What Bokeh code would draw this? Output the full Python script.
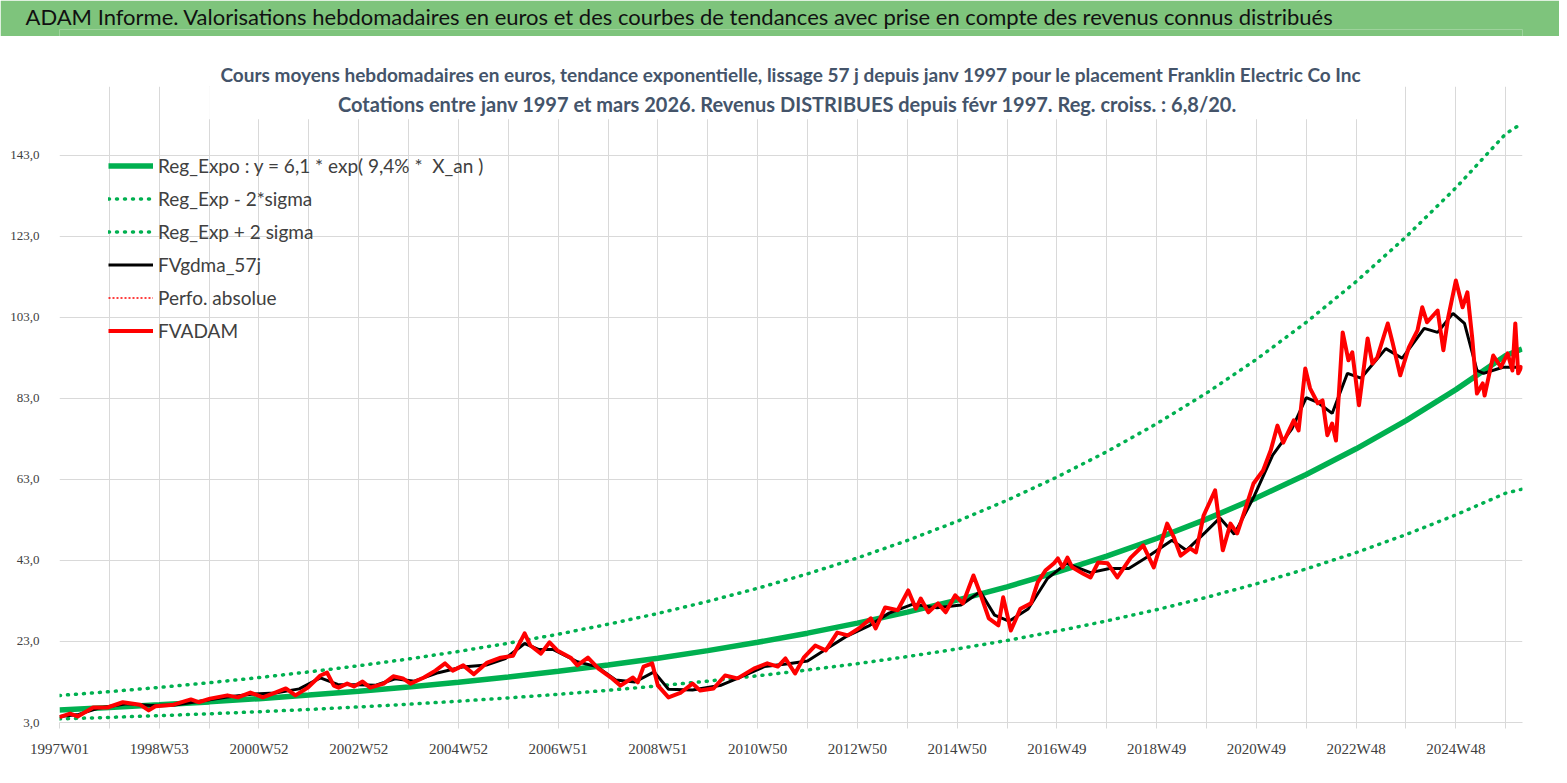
from bokeh.plotting import figure
from bokeh.layouts import column
from bokeh.models import (Range1d, FixedTicker, Legend, LegendItem, Label, Title,
                          BoxAnnotation)
from bokeh.embed import file_html
from bokeh.resources import INLINE

# ---------------- data ----------------
tick_labels = ["1997W01", "1998W53", "2000W52", "2002W52", "2004W52", "2006W51",
               "2008W51", "2010W50", "2012W50", "2014W50", "2016W49", "2018W49",
               "2020W49", "2022W48", "2024W48"]

y_ticks = [3, 23, 43, 63, 83, 103, 123, 143]

# FVADAM (weekly average price, euros) - week index since 1997W01
fv_weeks = [0, 11, 19, 35, 50, 66, 84, 93, 100, 119, 137, 145, 157, 175, 186, 199,
            212, 223, 236, 246, 259, 272, 279, 286, 291, 300, 307, 316, 324, 338,
            348, 358, 366, 380, 392, 402, 410, 421, 432, 446, 460, 473, 485, 491,
            502, 511, 519, 533, 540, 551, 562, 575, 585, 598, 603, 609, 618, 624,
            635, 648, 660, 668, 682, 694, 707, 724, 738, 749, 757, 767, 776, 788,
            799, 811, 822, 835, 846, 851, 861, 874, 885, 893, 898, 906, 916, 924,
            934, 942, 953, 960, 969, 979, 984, 992, 1002, 1013, 1020, 1028, 1037,
            1041, 1046, 1051, 1056, 1067, 1075, 1083, 1093, 1103, 1117, 1130, 1141,
            1155, 1162, 1169, 1179, 1185, 1193, 1205, 1213, 1221, 1228, 1237, 1245,
            1255, 1263, 1270, 1276, 1287, 1292, 1299, 1304, 1312, 1317, 1322, 1327,
            1331, 1338, 1344, 1348, 1355, 1364, 1369, 1374, 1385, 1390, 1398, 1407,
            1416, 1421, 1426, 1437, 1443, 1448, 1456, 1463, 1468, 1473, 1478, 1484,
            1486, 1495, 1503, 1510, 1515, 1518, 1521, 1525]
fvadam = [4.3, 5.2, 4.5, 6.7, 6.7, 8.0, 7.4, 6.0, 7.0, 7.4, 8.7, 8.0, 8.9, 9.7, 9.2, 10.4,
          9.2, 10.2, 11.4, 9.7, 11.6, 14.6, 15.3, 12.1, 11.6, 12.6, 11.9, 13.1, 11.6, 12.6,
          14.4, 13.9, 12.6, 14.1, 15.8, 17.6, 15.8, 17.1, 14.9, 17.8, 19.0, 19.5, 25.0, 22.0,
          20.0, 22.8, 20.8, 19.0, 17.1, 19.0, 16.3, 14.1, 12.1, 14.1, 12.9, 16.8, 17.6, 12.1,
          9.2, 10.4, 12.6, 10.9, 11.4, 14.6, 13.9, 16.3, 17.6, 16.8, 18.8, 15.1, 19.0, 22.0,
          20.8, 25.2, 24.5, 26.5, 28.7, 26.2, 31.4, 30.7, 35.6, 31.1, 33.6, 30.2, 32.4, 30.2,
          34.4, 32.4, 39.3, 34.9, 28.7, 27.0, 33.9, 25.7, 31.1, 32.4, 37.6, 40.5, 42.3,
          43.5, 41.3, 43.7, 41.3, 39.8, 38.8, 42.5, 42.3, 38.8, 43.7, 46.7, 41.3,
          52.1, 48.7, 44.2, 46.0, 45.0, 54.1, 60.3, 45.5, 52.1, 49.7, 56.1, 62.0,
          65.2, 70.2, 76.3, 72.1, 77.6, 75.1, 90.4, 85.5, 81.8, 82.5, 73.9, 76.8,
          72.6, 99.3, 92.4, 94.4, 81.3, 97.8, 91.6, 93.1, 101.5, 96.8, 88.7, 95.6,
          99.8, 105.5, 101.8, 104.7, 94.9, 103.0, 112.1, 105.5, 109.2, 98.1, 84.2, 86.7,
          83.7, 93.6, 90.7, 94.1, 89.9, 101.5, 89.2, 91.1]

# FVgdma_57j (57-day moving average)
ma_weeks = [0, 20, 40, 70, 95, 120, 145, 175, 200, 225, 250, 272, 290, 310, 330, 350,
            370, 395, 420, 445, 465, 485, 500, 515, 540, 560, 580, 600, 620, 635, 660,
            690, 710, 735, 760, 780, 800, 820, 845, 865, 890, 915, 940, 960, 975, 990,
            1010, 1030, 1050, 1075, 1095, 1115, 1135, 1160, 1175, 1195, 1210, 1225,
            1245, 1265, 1285, 1300, 1312, 1327, 1343, 1357, 1383, 1400, 1423, 1437,
            1453, 1465, 1478, 1485, 1505, 1525]
fvgdma = [4.5, 5.0, 6.5, 7.6, 7.2, 7.3, 8.2, 9.3, 10.0, 10.3, 11.3, 14.0, 12.4, 12.3, 12.2, 13.8,
          13.2, 15.3, 16.7, 17.2, 18.8, 22.5, 21.0, 21.0, 18.0, 16.8, 13.5, 13.0, 15.5, 11.2, 11.0,
          12.2, 14.2, 16.8, 17.5, 18.2, 21.2, 24.2, 27.0, 30.0, 32.2, 31.3, 32.0, 35.3, 29.5, 28.0,
          31.0, 38.5, 42.3, 40.0, 41.0, 41.0, 44.0, 48.0, 45.5, 50.0, 53.5, 49.5,
          58.5, 69.0, 75.5, 83.2, 82.0, 79.3, 89.2, 88.0, 95.3, 92.9, 100.3, 99.3,
          104.0, 101.5, 89.9, 89.2, 90.7, 90.7]

# exponential trend and +/- 2 sigma bands (read yearly)
trend_weeks = [0, 52, 104, 156, 208, 260, 312, 364, 416, 468, 520, 572, 624, 676, 728,
               780, 832, 884, 936, 988, 1040, 1092, 1144, 1196, 1248, 1300, 1352, 1404,
               1456, 1508, 1525]
reg_expo = [6.10, 6.70, 7.36, 8.09, 8.89, 9.77, 10.73, 11.79, 12.96, 14.24, 15.64, 17.19,
            18.88, 20.75, 22.80, 25.05, 27.52, 30.24, 33.22, 36.50, 40.11, 44.07, 48.42,
            53.20, 58.45, 64.22, 70.56, 77.52, 85.17, 93.58, 95.2]
reg_minus = [3.89, 4.27, 4.69, 5.15, 5.66, 6.22, 6.84, 7.51, 8.26, 9.07, 9.96, 10.95,
             12.03, 13.22, 14.52, 15.96, 17.53, 19.26, 21.16, 23.25, 25.55, 28.07, 30.84,
             33.89, 37.23, 40.91, 44.95, 49.38, 54.25, 59.61, 60.6]
reg_plus = [9.67, 10.62, 11.67, 12.82, 14.09, 15.49, 17.01, 18.69, 20.54, 22.57, 24.79,
            27.25, 29.92, 32.89, 36.14, 39.70, 43.62, 47.93, 52.65, 57.85, 63.57, 69.85,
            76.75, 84.32, 92.64, 101.79, 111.84, 122.87, 134.99, 148.32, 150.9]

legend_labels = ["Reg_Expo : y = 6,1 * exp( 9,4% *  X_an )", "Reg_Exp - 2*sigma",
                 "Reg_Exp + 2 sigma", "FVgdma_57j", "Perfo. absolue", "FVADAM"]

header = ("ADAM Informe. Valorisations hebdomadaires en euros et des courbes de tendances "
          "avec prise en compte des revenus connus distribués")
sub1 = ("Cours moyens hebdomadaires en euros, tendance exponentielle, lissage 57 j depuis "
        "janv 1997 pour le placement Franklin Electric Co Inc")
sub2 = ("Cotations entre janv 1997 et mars 2026. Revenus DISTRIBUES depuis févr 1997. "
        "Reg. croiss. : 6,8/20.")

# ---------------- styling ----------------
FONT = "Lato"
TICKFONT = "Liberation Sans Narrow"
GREEN = "#00b050"
RED = "#ff0000"
GRID = "#d9d9d9"
BAND = "#7ec47c"

W = 1559
HH = 36                       # header band height
H = 775 - HH
ML, MR, MT, MB = 59, W - 1522, 86 - HH, 53
FH = H - MT - MB

# ---------------- header band ----------------
hdr = figure(width=W, height=HH, x_range=Range1d(0, 1), y_range=Range1d(0, 1),
             output_backend="svg", toolbar_location=None,
             x_axis_location=None, y_axis_location=None,
             min_border_left=0, min_border_right=0, min_border_top=5, min_border_bottom=0,
             background_fill_color=BAND, border_fill_color=BAND,
             outline_line_color=None)
hdr.grid.visible = False
hdr.add_layout(Title(text=header, align="left", offset=-34, standoff=0,
                     text_font=FONT, text_font_size="22px", text_font_style="normal",
                     text_color="#111111"), "above")

# ---------------- main chart ----------------
p = figure(width=W, height=H, x_range=Range1d(0, 1525.5), y_range=Range1d(3, 160),
           output_backend="svg", toolbar_location=None,
           min_border_left=ML, min_border_right=MR, min_border_top=MT, min_border_bottom=MB,
           background_fill_color="white", border_fill_color="white", outline_line_color=None)

p.add_layout(Title(text=sub1, align="center", text_font=FONT, text_font_size="19px",
                   text_font_style="bold", text_color="#44546a", standoff=2), "above")

xt = list(range(0, 1526, 52))
p.xaxis.ticker = FixedTicker(ticks=xt)
over = {}
for i, t in enumerate(xt):
    over[t] = tick_labels[i // 2] if i % 2 == 0 and i // 2 < len(tick_labels) else ""
p.xaxis.major_label_overrides = over
p.xaxis.axis_line_color = GRID
p.xaxis.major_tick_line_color = GRID
p.xaxis.major_tick_out = 6
p.xaxis.major_tick_in = 0
p.xaxis.minor_tick_line_color = None
p.xaxis.major_label_standoff = 12
p.xaxis.major_label_text_font = TICKFONT
p.xaxis.major_label_text_font_size = "15px"
p.xaxis.major_label_text_color = "#404040"

p.yaxis.ticker = FixedTicker(ticks=y_ticks)
p.yaxis.major_label_overrides = {v: f"{v},0" for v in y_ticks}
p.yaxis.axis_line_color = None
p.yaxis.major_tick_line_color = None
p.yaxis.minor_tick_line_color = None
p.yaxis.major_label_standoff = 14
p.yaxis.major_label_text_font = TICKFONT
p.yaxis.major_label_text_font_size = "13px"
p.yaxis.major_label_text_color = "#404040"

p.xgrid.grid_line_color = GRID
p.ygrid.grid_line_color = GRID

# series
r_exp = p.line(trend_weeks, reg_expo, line_color=GREEN, line_width=5.5)
r_minus = p.line(trend_weeks, reg_minus, line_color=GREEN, line_width=3.5,
                 line_dash="1 7", line_cap="round")
r_plus = p.line(trend_weeks, reg_plus, line_color=GREEN, line_width=3.5,
                line_dash="1 7", line_cap="round")
r_ma = p.line(ma_weeks, fvgdma, line_color="black", line_width=3)
r_perf = p.line(x=[0], y=[float("nan")], line_color=RED, line_width=1.5, line_dash="2 2")
r_fv = p.line(fv_weeks, fvadam, line_color=RED, line_width=4, line_join="round")

LH, SP = 23, 10
LEG_H = 6 * LH + 5 * SP
legend = Legend(items=[LegendItem(label=l, renderers=[r]) for l, r in
                       zip(legend_labels, [r_exp, r_minus, r_plus, r_ma, r_perf, r_fv])],
                location=(49, FH - 68 - LEG_H), border_line_color=None,
                background_fill_alpha=0, padding=0, margin=0, spacing=SP,
                glyph_height=LH, glyph_width=45, label_height=LH, label_standoff=5,
                label_text_font=FONT, label_text_font_size="19px",
                label_text_color="#404040")
p.add_layout(legend)

# white box behind the second subtitle line (hides the grid there)
p.add_layout(BoxAnnotation(left=156, right=1367, bottom=151.9, top=160,
                           fill_color="white", fill_alpha=1, line_color=None))
p.add_layout(Label(x=728, y=FH - 17, x_units="screen", y_units="screen", text=sub2,
                   text_font=FONT, text_font_size="20px", text_font_style="bold",
                   text_color="#44546a", text_baseline="middle", text_align="center"))

open("out.html", "w").write(file_html(column(hdr, p), INLINE))
